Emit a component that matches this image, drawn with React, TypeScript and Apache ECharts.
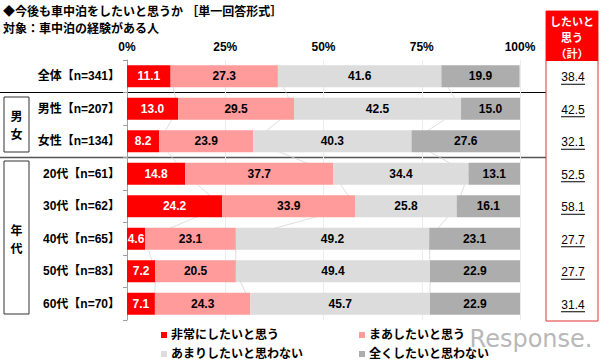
import React, { useEffect, useRef } from "react";
import * as echarts from "echarts";

const categories = [
  "全体【n=341】",
  "男性【n=207】",
  "女性【n=134】",
  "20代【n=61】",
  "30代【n=62】",
  "40代【n=65】",
  "50代【n=83】",
  "60代【n=70】",
];
const seriesNames = ["非常にしたいと思う", "まあしたいと思う", "あまりしたいと思わない", "全くしたいと思わない"];
const veryMuch = [11.1, 13.0, 8.2, 14.8, 24.2, 4.6, 7.2, 7.1];
const somewhat = [27.3, 29.5, 23.9, 37.7, 33.9, 23.1, 20.5, 24.3];
const notMuch = [41.6, 42.5, 40.3, 34.4, 25.8, 49.2, 49.4, 45.7];
const notAtAll = [19.9, 15.0, 27.6, 13.1, 16.1, 23.1, 22.9, 22.9];
const totals = [38.4, 42.5, 32.1, 52.5, 58.1, 27.7, 27.7, 31.4];
const headerLines = ["したいと", "思う", "（計）"];
const groupLabels = [["男", "女"], ["年", "代"]];
const colors = ["#ff0000", "#ff9b9b", "#dcdcdc", "#adadad"];

const FONT = "'Liberation Sans', 'Noto Sans CJK JP', sans-serif";
const CJK = "'Noto Sans CJK JP', sans-serif";
const GRID_TOP = 60;
const GRID_BOTTOM = 43;
const GRID_LEFT = 127;
const GRID_RIGHT = 80;
const H = 363;
const ROW_H = (H - GRID_TOP - GRID_BOTTOM) / categories.length;

export default function App() {
  const ref = useRef<HTMLDivElement>(null);
  useEffect(() => {
    if (!ref.current) return;
    const chart = echarts.init(ref.current, null, { renderer: "svg" });
    const data = [veryMuch, somewhat, notMuch, notAtAll];

    const cum1 = veryMuch.map((v) => v);
    const cum2 = veryMuch.map((v, i) => v + somewhat[i]);
    const cum3 = veryMuch.map((v, i) => v + somewhat[i] + notMuch[i]);

    const barSeries = data.map((d, si) => ({
      name: seriesNames[si],
      type: "bar",
      stack: "total",
      barWidth: 22,
      z: 3,
      itemStyle: { color: colors[si] },
      label: {
        show: true,
        position: "inside",
        color: si === 0 ? "#fff" : "#000",
        fontSize: 12,
        fontWeight: "bold",
        fontFamily: FONT,
        formatter: (p: any) => Number(p.value).toFixed(1),
      },
      data: d,
    }));

    const lineSeries = [cum1, cum2, cum3].map((c) => ({
      type: "line",
      z: 1,
      silent: true,
      symbol: "none",
      lineStyle: { color: "#d6d6d6", width: 0.8 },
      data: c,
    }));

    const graphic: any[] = [];
    graphic.push({
      type: "line",
      shape: { x1: 0, y1: GRID_TOP + ROW_H, x2: 546, y2: GRID_TOP + ROW_H },
      style: { stroke: "#000", lineWidth: 1 },
    });
    graphic.push({
      type: "line",
      shape: { x1: 0, y1: GRID_TOP + ROW_H * 3, x2: 546, y2: GRID_TOP + ROW_H * 3 },
      style: { stroke: "#555", lineWidth: 1.5 },
    });
    graphic.push({
      type: "rect",
      shape: { x: 4, y: 97, width: 25, height: 55 },
      style: { fill: "#fff", stroke: "#333", lineWidth: 1 },
    });
    graphic.push({
      type: "rect",
      shape: { x: 4, y: 161, width: 25, height: 153 },
      style: { fill: "#fff", stroke: "#333", lineWidth: 1 },
    });
    const groupY = [
      [115, 133],
      [229, 247],
    ];
    groupLabels.forEach((g, gi) => {
      g.forEach((ch, ci) => {
        graphic.push({
          type: "text",
          x: 16.5,
          y: groupY[gi][ci],
          style: {
            text: ch,
            fontSize: 12,
            fontWeight: "bold",
            fill: "#000",
            align: "center",
            verticalAlign: "middle",
            fontFamily: CJK,
          },
        });
      });
    });
    graphic.push({
      type: "rect",
      shape: { x: 546, y: 11, width: 52, height: 310 },
      style: { fill: "#fff", stroke: "#e03030", lineWidth: 1 },
    });
    graphic.push({
      type: "rect",
      shape: { x: 546, y: 11, width: 52, height: 50 },
      style: { fill: "#ff0000" },
    });
    headerLines.forEach((l, i) => {
      graphic.push({
        type: "text",
        x: 572,
        y: 21 + i * 16,
        style: {
          text: l,
          fontSize: 11,
          fontWeight: "bold",
          fill: "#fff",
          align: "center",
          verticalAlign: "middle",
          fontFamily: CJK,
        },
      });
    });
    totals.forEach((t, i) => {
      const cy = GRID_TOP + ROW_H * (i + 0.5) + 1;
      graphic.push({
        type: "text",
        x: 573,
        y: cy,
        style: {
          text: t.toFixed(1),
          fontSize: 12,
          fill: "#000",
          align: "center",
          verticalAlign: "middle",
          fontFamily: FONT,
        },
      });
      graphic.push({
        type: "line",
        shape: { x1: 561, y1: cy + 7, x2: 585, y2: cy + 7 },
        style: { stroke: "#000", lineWidth: 1 },
      });
    });
    graphic.push({
      type: "text",
      x: 3,
      y: 12,
      style: {
        text: "◆今後も車中泊をしたいと思うか ［単一回答形式］",
        fontSize: 12,
        fontWeight: "bold",
        fill: "#000",
        verticalAlign: "middle",
        fontFamily: FONT,
      },
    });
    graphic.push({
      type: "text",
      x: 3,
      y: 29,
      style: {
        text: "対象：車中泊の経験がある人",
        fontSize: 12,
        fontWeight: "bold",
        fill: "#000",
        verticalAlign: "middle",
        fontFamily: FONT,
      },
    });
    graphic.push({
      type: "text",
      x: 531,
      y: 339,
      style: {
        text: "Response.",
        fontSize: 24,
        fill: "#b8b8b8",
        align: "center",
        verticalAlign: "middle",
        fontFamily: "'DejaVu Sans', sans-serif",
      },
    });

    const legendPos = [
      { left: 161, top: 329 },
      { left: 359, top: 329 },
      { left: 161, top: 348 },
      { left: 359, top: 348 },
    ];

    chart.setOption({
      animation: false,
      backgroundColor: "#fff",
      textStyle: { fontFamily: FONT },
      grid: { left: GRID_LEFT, right: GRID_RIGHT, top: GRID_TOP, bottom: GRID_BOTTOM },
      xAxis: {
        type: "value",
        position: "top",
        min: 0,
        max: 100,
        interval: 25,
        axisLine: { show: false },
        axisTick: { show: false },
        splitLine: { show: true, lineStyle: { color: "#ececec", width: 1 } },
        axisLabel: {
          formatter: "{value}%",
          color: "#000",
          fontSize: 12,
          fontWeight: "bold",
          margin: 7,
          fontFamily: FONT,
        },
      },
      yAxis: {
        type: "category",
        inverse: true,
        data: categories,
        axisLine: { show: true, lineStyle: { color: "#a0a0a0" } },
        axisTick: { show: true, length: 4, lineStyle: { color: "#a0a0a0" } },
        axisLabel: {
          color: "#000",
          fontSize: 12,
          fontWeight: "bold",
          margin: 7,
          fontFamily: FONT,
        },
      },
      legend: seriesNames.map((n, i) => ({
        data: [{ name: n, icon: "rect" }],
        left: legendPos[i].left,
        top: legendPos[i].top,
        itemWidth: 6,
        itemHeight: 6,
        itemGap: 4,
        padding: 0,
        textStyle: { color: "#000", fontSize: 12, fontWeight: "bold", fontFamily: FONT, padding: [0, 0, 0, -1] },
      })),
      series: [...lineSeries, ...barSeries],
      graphic,
    });
    return () => chart.dispose();
  }, []);
  return (
    <div
      ref={ref}
      style={{ position: "fixed", left: 0, top: 0, width: 600, height: 363, background: "#fff" }}
    />
  );
}
